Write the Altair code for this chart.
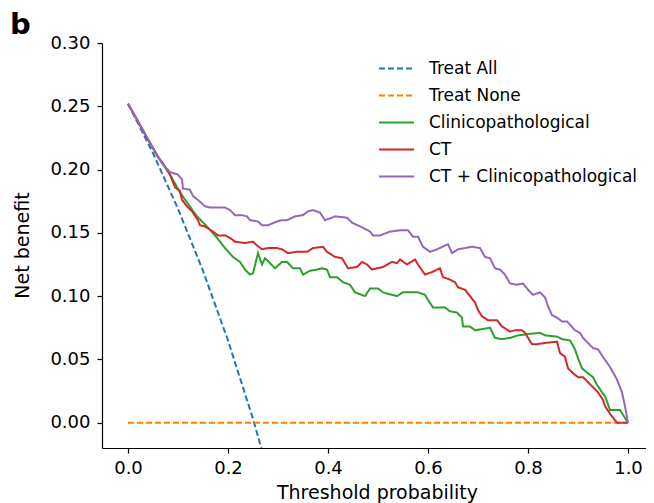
import altair as alt
import pandas as pd

series_names = ["Treat All", "Treat None", "Clinicopathological", "CT", "CT + Clinicopathological"]
series_colors = ["#1f77b4", "#ff7f0e", "#2ca02c", "#d62728", "#9467bd"]
series_dashes = [[6, 3], [6, 3], [1, 0], [1, 0], [1, 0]]

x_ticks = [0.0, 0.2, 0.4, 0.6, 0.8, 1.0]
y_ticks = [0.0, 0.05, 0.10, 0.15, 0.20, 0.25, 0.30]

treat_all_x = [0.0, 0.05, 0.10, 0.15, 0.20, 0.25, 0.268]
treat_all_y = [0.252, 0.213, 0.169, 0.120, 0.065, 0.003, -0.022]

treat_none_x = [0.0, 1.0]
treat_none_y = [0.0, 0.0]

clin_x = [0, 0.02, 0.044, 0.06, 0.084, 0.104, 0.118, 0.138, 0.158, 0.178, 0.194, 0.21, 0.224, 0.234,
          0.244, 0.25, 0.26, 0.268, 0.274, 0.284, 0.294, 0.308, 0.318, 0.33, 0.344, 0.35, 0.364, 0.378,
          0.388, 0.398, 0.404, 0.418, 0.43, 0.444, 0.454, 0.474, 0.484, 0.5, 0.51, 0.528, 0.538, 0.55,
          0.558, 0.58, 0.594, 0.6, 0.61, 0.634, 0.644, 0.658, 0.668, 0.67, 0.684, 0.694, 0.724, 0.734,
          0.748, 0.764, 0.78, 0.8, 0.824, 0.834, 0.858, 0.868, 0.884, 0.894, 0.9, 0.908, 0.92, 0.93,
          0.938, 0.948, 0.954, 0.964, 0.984, 1.0]
clin_y = [0.252, 0.238, 0.221, 0.210, 0.196, 0.182, 0.174, 0.163, 0.155, 0.146, 0.138, 0.131, 0.127, 0.121,
          0.117, 0.118, 0.134, 0.125, 0.130, 0.126, 0.122, 0.127, 0.127, 0.122, 0.122, 0.117, 0.120, 0.121,
          0.122, 0.121, 0.115, 0.115, 0.111, 0.109, 0.103, 0.100, 0.106, 0.106, 0.103, 0.101, 0.100, 0.103,
          0.103, 0.103, 0.101, 0.097, 0.091, 0.091, 0.088, 0.087, 0.083, 0.076, 0.076, 0.073, 0.075, 0.067,
          0.066, 0.067, 0.069, 0.070, 0.071, 0.069, 0.068, 0.066, 0.065, 0.058, 0.051, 0.043, 0.039, 0.036,
          0.030, 0.024, 0.021, 0.010, 0.010, 0.0]

ct_x = [0, 0.02, 0.044, 0.06, 0.068, 0.084, 0.094, 0.104, 0.108, 0.118, 0.128, 0.14, 0.144, 0.154, 0.17,
        0.18, 0.194, 0.204, 0.214, 0.234, 0.25, 0.258, 0.268, 0.28, 0.298, 0.308, 0.32, 0.338, 0.358,
        0.37, 0.39, 0.398, 0.414, 0.428, 0.44, 0.458, 0.468, 0.478, 0.488, 0.498, 0.51, 0.528, 0.538,
        0.544, 0.558, 0.574, 0.58, 0.594, 0.608, 0.624, 0.63, 0.644, 0.654, 0.66, 0.674, 0.684, 0.694,
        0.7, 0.708, 0.72, 0.738, 0.748, 0.764, 0.774, 0.788, 0.794, 0.808, 0.818, 0.834, 0.858, 0.864,
        0.874, 0.88, 0.89, 0.9, 0.91, 0.92, 0.93, 0.94, 0.95, 0.954, 0.966, 0.978, 1.0]
ct_y = [0.252, 0.238, 0.221, 0.210, 0.206, 0.196, 0.186, 0.183, 0.176, 0.171, 0.167, 0.160, 0.156, 0.155, 0.151,
        0.148, 0.148, 0.146, 0.143, 0.142, 0.143, 0.140, 0.137, 0.138, 0.138, 0.137, 0.134, 0.135, 0.135,
        0.138, 0.139, 0.135, 0.131, 0.130, 0.122, 0.123, 0.127, 0.125, 0.121, 0.122, 0.123, 0.127, 0.126,
        0.129, 0.125, 0.129, 0.125, 0.117, 0.119, 0.122, 0.115, 0.113, 0.111, 0.107, 0.105, 0.100, 0.095,
        0.089, 0.084, 0.081, 0.081, 0.076, 0.072, 0.073, 0.073, 0.071, 0.062, 0.062, 0.063, 0.064, 0.055,
        0.052, 0.043, 0.039, 0.036, 0.036, 0.032, 0.028, 0.024, 0.018, 0.013, 0.006, 0.0, 0.0]

combo_x = [0, 0.02, 0.044, 0.06, 0.07, 0.084, 0.1, 0.108, 0.11, 0.124, 0.13, 0.14, 0.154, 0.164, 0.178,
           0.194, 0.204, 0.214, 0.228, 0.238, 0.244, 0.26, 0.268, 0.28, 0.298, 0.308, 0.318, 0.334, 0.35,
           0.36, 0.37, 0.384, 0.394, 0.408, 0.414, 0.438, 0.448, 0.47, 0.484, 0.49, 0.504, 0.524, 0.544,
           0.56, 0.57, 0.58, 0.59, 0.604, 0.618, 0.64, 0.648, 0.66, 0.688, 0.704, 0.714, 0.724, 0.734,
           0.744, 0.754, 0.764, 0.778, 0.79, 0.8, 0.81, 0.824, 0.834, 0.84, 0.848, 0.858, 0.868, 0.878,
           0.894, 0.904, 0.91, 0.92, 0.93, 0.94, 0.95, 0.964, 0.978, 0.988, 0.994, 1.0]
combo_y = [0.252, 0.238, 0.221, 0.210, 0.204, 0.198, 0.196, 0.192, 0.185, 0.184, 0.179, 0.176, 0.171, 0.170, 0.170,
           0.170, 0.168, 0.164, 0.164, 0.163, 0.160, 0.159, 0.156, 0.156, 0.159, 0.160, 0.160, 0.163, 0.164,
           0.167, 0.168, 0.166, 0.160, 0.162, 0.163, 0.162, 0.158, 0.154, 0.151, 0.148, 0.148, 0.151, 0.152,
           0.152, 0.147, 0.147, 0.139, 0.135, 0.137, 0.141, 0.134, 0.137, 0.139, 0.138, 0.131, 0.130, 0.122,
           0.121, 0.117, 0.110, 0.109, 0.110, 0.105, 0.101, 0.103, 0.099, 0.092, 0.085, 0.083, 0.080, 0.080,
           0.073, 0.071, 0.067, 0.063, 0.059, 0.058, 0.052, 0.044, 0.034, 0.024, 0.013, 0.0]

rows = []
for name, xs, ys in zip(series_names,
                        [treat_all_x, treat_none_x, clin_x, ct_x, combo_x],
                        [treat_all_y, treat_none_y, clin_y, ct_y, combo_y]):
    for i, (xv, yv) in enumerate(zip(xs, ys)):
        rows.append({"model": name, "threshold": xv, "net_benefit": yv, "idx": i})
df = pd.DataFrame(rows)

FONT = "DejaVu Sans"

chart = alt.Chart(df).mark_line(strokeWidth=2, clip=True).encode(
    x=alt.X("threshold:Q",
            scale=alt.Scale(domain=[-0.052, 1.036], nice=False, zero=False),
            axis=alt.Axis(values=x_ticks, format=".1f", title="Threshold probability",
                          labelBaseline="alphabetic", labelPadding=20,
                          titleBaseline="alphabetic", titleY=50, titleX=275)),
    y=alt.Y("net_benefit:Q",
            scale=alt.Scale(domain=[-0.02, 0.30], nice=False, zero=False),
            axis=alt.Axis(values=y_ticks, format=".2f", title="Net benefit",
                          labelPadding=7, titleX=-80, titleY=202, titleAngle=270,
                          titleAlign="center", titleBaseline="middle")),
    color=alt.Color("model:N", scale=alt.Scale(domain=series_names, range=series_colors),
                    legend=alt.Legend(title=None)),
    strokeDash=alt.StrokeDash("model:N", scale=alt.Scale(domain=series_names, range=series_dashes),
                              legend=alt.Legend(title=None)),
    order=alt.Order("idx:Q"),
).properties(
    width=544,
    height=405,
    autosize=alt.AutoSizeParams(type="none"),
    padding={"left": 94, "top": 35, "right": 0, "bottom": 55},
    title=alt.TitleParams("b", anchor="start", frame="group", fontSize=29, fontWeight="bold",
                          font=FONT, color="black", dx=-92, dy=39, offset=10, baseline="alphabetic"),
).configure_view(
    stroke=None
).configure_axis(
    grid=False,
    domainColor="black", tickColor="black", labelColor="black", titleColor="black",
    domainWidth=1.2, tickWidth=1.2, tickSize=5,
    labelFont=FONT, titleFont=FONT, labelFontSize=18, titleFontSize=19, titleFontWeight="normal",
).configure_legend(
    orient="none", legendX=276, legendY=7, symbolType="stroke", symbolSize=1225,
    symbolStrokeWidth=2, labelFontSize=17, labelFont=FONT, labelColor="black", labelLimit=0,
    labelOffset=14, rowPadding=-7, padding=0, offset=0,
)

chart.save("out.html", embed_options={"renderer": "svg", "actions": False})
